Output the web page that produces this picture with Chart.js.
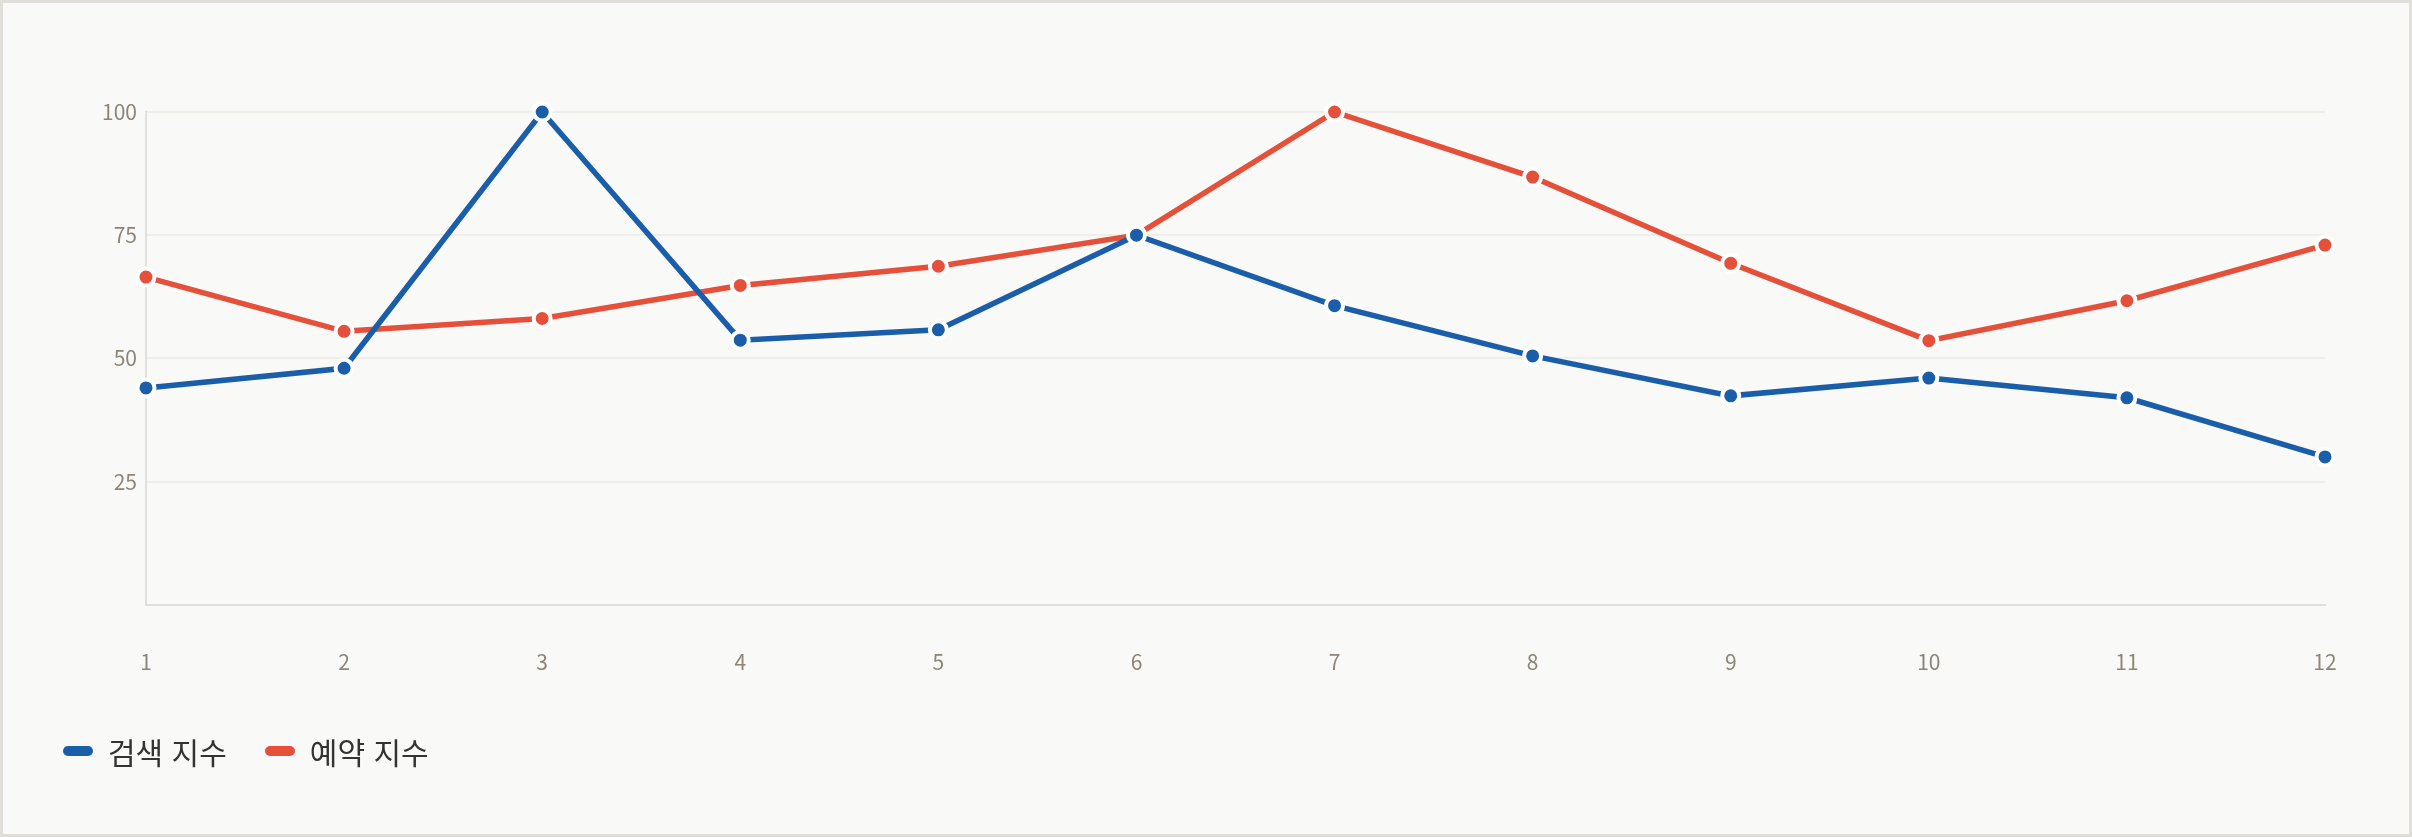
<!DOCTYPE html>
<html lang="ko">
<head>
<meta charset="utf-8">
<script src="https://cdn.jsdelivr.net/npm/chart.js@4"></script>
<style>
  html, body { margin: 0; padding: 0; background: #f9f9f7; }
  .frame {
    width: 2412px; height: 837px; box-sizing: border-box;
    border: 3px solid #e0dfd9; background: #f9f9f7; position: relative;
  }
  .frame canvas { position: absolute; left: 0; top: 0; }
  #legend {
    position: absolute; left: 60px; top: 728px; height: 40px;
    display: flex; align-items: center; gap: 38px;
    font-family: 'Noto Sans CJK KR', 'Noto Sans', sans-serif;
    font-size: 30px; color: #333333;
  }
  .legend-item { display: flex; align-items: center; gap: 15px; }
  .legend-swatch { width: 30px; height: 10px; border-radius: 5px; }
</style>
</head>
<body>
<div class="frame">
  <canvas id="trendCanvas" width="2406" height="831"></canvas>
  <div id="legend"></div>
</div>
<script>
const months = ["1", "2", "3", "4", "5", "6", "7", "8", "9", "10", "11", "12"];
const searchIndex = [44, 48, 100, 53.7, 55.8, 75, 60.7, 50.5, 42.4, 46, 42, 30];
const bookingIndex = [66.5, 55.5, 58.1, 64.8, 68.7, 75, 100, 86.8, 69.3, 53.6, 61.7, 73];
const yTicks = [25, 50, 75, 100];

const blue = "#1a5da8";
const red = "#e5503b";
const tickColor = "#8c8578";
const fontFamily = "'Noto Sans CJK KR', 'Noto Sans', sans-serif";

const ctx = document.getElementById("trendCanvas");

// shared line look
function lineStyle(color) {
  return {
    borderColor: color,
    backgroundColor: color,
    borderWidth: 5.5,
    pointRadius: 8.5,
    pointHoverRadius: 8.5,
    pointBackgroundColor: color,
    pointBorderColor: "#ffffff",
    pointBorderWidth: 4,
    tension: 0,
    fill: false,
    clip: false,
  };
}

const trendChart = new Chart(ctx, {
  type: "line",
  data: {
    labels: months,
    datasets: [
      { label: "검색 지수", data: searchIndex, ...lineStyle(blue) },
      { label: "예약 지수", data: bookingIndex, ...lineStyle(red) },
    ],
  },
  options: {
    responsive: false,
    animation: false,
    layout: {
      padding: { left: 50, right: 84, top: 109, bottom: 114 },
    },
    scales: {
      x: {
        offset: false,
        grid: { display: false, drawTicks: false },
        border: { display: true, color: "#e0dfd9", width: 2 },
        ticks: {
          color: tickColor,
          padding: 45,
          maxRotation: 0,
          font: { family: fontFamily, size: 21 },
        },
      },
      y: {
        min: 0,
        max: 100,
        afterFit: (scale) => { scale.width = 93; },
        afterBuildTicks: (scale) => {
          scale.ticks = [0, ...yTicks].map((v) => ({ value: v }));
        },
        grid: { color: "#efeee9", lineWidth: 2, drawTicks: false },
        border: { display: true, color: "#e0dfd9", width: 2 },
        ticks: {
          color: tickColor,
          padding: 9,
          font: { family: fontFamily, size: 21 },
          callback: (v) => (v === 0 ? "" : v),
        },
      },
    },
    plugins: {
      legend: { display: false },
      tooltip: { enabled: false },
    },
  },
});

// html legend built from the datasets
const legendEl = document.getElementById("legend");
trendChart.data.datasets.forEach((ds) => {
  const item = document.createElement("div");
  item.className = "legend-item";
  const swatch = document.createElement("span");
  swatch.className = "legend-swatch";
  swatch.style.background = ds.borderColor;
  const label = document.createElement("span");
  label.textContent = ds.label;
  item.appendChild(swatch);
  item.appendChild(label);
  legendEl.appendChild(item);
});
</script>
</body>
</html>
